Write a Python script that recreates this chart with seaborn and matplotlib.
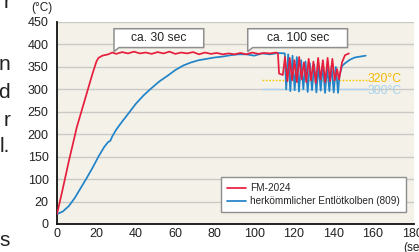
import matplotlib
matplotlib.use("Agg")
import matplotlib.pyplot as plt
import seaborn as sns
import pandas as pd

zeit_fm = [0, 3, 6, 9, 10, 12, 14, 16, 18, 20, 21, 23,
           26, 28, 30, 33, 36, 39, 42, 45, 48, 51, 54, 57, 60, 63, 66, 69,
           72, 75, 78, 81, 84, 87, 90, 93, 96, 99, 102, 105, 108, 111, 112,
           112.6, 114.5, 115.6, 116.8, 118.0, 119.2, 120.4, 121.6, 122.8, 124.0,
           125.2, 126.4, 127.6, 128.8, 130.0, 131.2, 132.4, 133.6, 134.8, 136.0,
           137.2, 138.4, 139.6, 140.8, 142.0, 143.0, 144.5, 146.0, 148.0]
temp_fm = [22, 80, 140, 196, 215, 245, 275, 305, 335, 362, 370, 375,
           378, 382, 379, 383, 380, 384, 380, 382, 379, 383, 380, 384, 379, 382, 380, 383,
           378, 382, 379, 381, 378, 380, 378, 381, 378, 382, 379, 381, 380, 382, 380,
           335, 332, 372, 318, 370, 320, 365, 316, 372, 322,
           360, 316, 368, 320, 362, 314, 370, 322, 365, 316,
           370, 318, 368, 320, 345, 322, 360, 376, 380]

zeit_alt = [0, 3, 6, 9, 12, 15, 18, 21, 24, 26, 27, 28, 30, 33, 36, 40, 44, 48,
            52, 56, 60, 64, 68, 72, 76, 80, 84, 88, 92, 96, 100, 104, 108, 112,
            115.5, 116.2, 117.2, 118.3, 119.4, 120.5, 121.6, 122.7, 123.8, 124.9,
            126.0, 127.1, 128.2, 129.3, 130.4, 131.5, 132.6, 133.7, 134.8, 135.9,
            137.0, 138.1, 139.2, 140.3, 141.4, 142.5, 143.2, 144.5, 146.0, 148.5,
            151.0, 156.5]
temp_alt = [22, 28, 40, 58, 80, 102, 125, 150, 172, 183, 185, 195, 210, 228, 245, 268, 287, 303,
            318, 330, 343, 353, 360, 365, 368, 371, 373, 376, 378, 378, 375, 380, 378, 381,
            380, 300, 378, 296, 375, 298, 372, 295, 365, 300,
            362, 294, 358, 298, 355, 293, 352, 297, 355, 292,
            350, 296, 352, 293, 350, 292, 330, 352, 358, 366,
            371, 375]

y_ticks = [0, 50, 100, 150, 200, 250, 300, 350, 400, 450]
y_labels = ["0", "20", "100", "150", "200", "250", "300", "350", "400", "450"]
x_ticks = [0, 20, 40, 60, 80, 100, 120, 140, 160, 180]

sns.set_theme(style="white")
plt.rcParams["font.family"] = ["Liberation Sans", "DejaVu Sans"]

fig = plt.figure(figsize=(4.19, 2.52), dpi=100)
ax = fig.add_axes([57 / 419, 28 / 252, 357 / 419, 202 / 252])
ax.set_facecolor("#f4f1e9")

for y in y_ticks[1:]:
    ax.axhline(y, color="#c9c9c6", lw=1.0, zorder=0)

# Referenzlinien 320 / 300 °C
ax.plot([104, 157.5], [320, 320], color="#f5c800", lw=1.0, ls=(0, (1.2, 1.2)), zorder=1)
ax.plot([104, 157.5], [300, 300], color="#a9d3ec", lw=1.0, zorder=1)
ax.text(157.5, 323, "320°C", color="#f3b900", fontsize=8.8, va="center", ha="left")
ax.text(157.5, 297, "300°C", color="#a6d2ee", fontsize=8.8, va="center", ha="left")

df_alt = pd.DataFrame({"t": zeit_alt, "T": temp_alt})
df_fm = pd.DataFrame({"t": zeit_fm, "T": temp_fm})
sns.lineplot(data=df_alt, x="t", y="T", color="#2183c8", lw=1.25, sort=False,
             estimator=None, ax=ax, label="herkömmlicher Entlötkolben (809)", zorder=2)
sns.lineplot(data=df_fm, x="t", y="T", color="#e61e3c", lw=1.25, sort=False,
             estimator=None, ax=ax, label="FM-2024", zorder=3)

# Sprechblasen
for x0, x1, txt in [(28.9, 74.4, "ca. 30 sec"), (96.7, 147.3, "ca. 100 sec")]:
    yb, yt = 393, 435
    xs = [x0, x1, x1, x0 + 2.5, x0, x0]
    ys = [yt, yt, yb, yb, 384, yt]
    ax.fill(xs, ys, facecolor="white", edgecolor="#8e8e8e", lw=1.1, zorder=5)
    ax.text((x0 + x1) / 2, (yb + yt) / 2, txt, fontsize=8.7, ha="center",
            va="center", color="#222222", zorder=6)

ax.set_xlim(0, 181)
ax.set_ylim(0, 450)
ax.set_xticks(x_ticks)
ax.set_yticks(y_ticks)
ax.set_yticklabels(y_labels)
ax.set_xlabel("")
ax.set_ylabel("")
ax.tick_params(axis="both", labelsize=9, colors="#222222", pad=3)
ax.tick_params(axis="x", direction="in", length=3, color="#999999")
ax.tick_params(axis="y", length=0, pad=6)
for s in ["top", "right"]:
    ax.spines[s].set_visible(False)
ax.spines["left"].set_color("#111111")
ax.spines["bottom"].set_color("#111111")
ax.spines["left"].set_linewidth(1.3)
ax.spines["bottom"].set_linewidth(1.3)

handles, labels = ax.get_legend_handles_labels()
order = [labels.index("FM-2024"), labels.index("herkömmlicher Entlötkolben (809)")]
leg = ax.legend([handles[i] for i in order], [labels[i] for i in order],
                loc="lower right", bbox_to_anchor=(0.978, 0.059), borderaxespad=0,
                fontsize=7.2, frameon=True, fancybox=False, handlelength=1.9,
                handletextpad=0.4, labelspacing=0.3, borderpad=0.6)
leg.get_frame().set_edgecolor("#8e8e8e")
leg.get_frame().set_linewidth(1.0)
leg.get_frame().set_facecolor("white")
leg.get_frame().set_alpha(1)

fig.text(42 / 419, 1 - 8 / 252, "(°C)", fontsize=8.5, ha="center", va="center", color="#222222")
fig.text(403 / 419, 1 - 248 / 252, "(sec)", fontsize=8.5, ha="left", va="center", color="#222222")

# Textreste der Nachbarspalte am linken Rand
for ypx, ch in [(3, "r"), (65, "n"), (93, "d"), (120, "r"), (147, "l."), (240, "s")]:
    fig.text(10 / 419, 1 - ypx / 252, ch, fontsize=15, ha="right", va="center", color="#222222")

fig.savefig("out.png", dpi=100)
